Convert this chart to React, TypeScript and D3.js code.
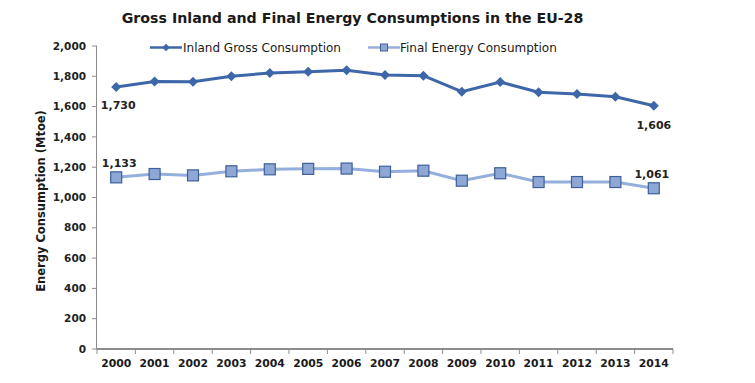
import React from "react";
import * as d3 from "d3";

const years = ["2000","2001","2002","2003","2004","2005","2006","2007","2008","2009","2010","2011","2012","2013","2014"];
const inlandGross = [1730,1766,1764,1800,1822,1830,1840,1808,1804,1698,1762,1695,1683,1665,1606];
const finalEnergy = [1133,1155,1146,1173,1186,1189,1191,1170,1177,1111,1160,1102,1102,1102,1061];
const yTicks = [0,200,400,600,800,1000,1200,1400,1600,1800,2000];

const W = 755, H = 383;
const left = 97, right = 673, top = 46, bottom = 349;
const FONT = "'DejaVu Sans', Verdana, sans-serif";

export default function App() {
  const x = d3.scaleBand<string>().domain(years).range([left, right]);
  const y = d3.scaleLinear().domain([0, 2000]).range([bottom, top]);
  const cx = (yr: string) => (x(yr) as number) + x.bandwidth() / 2;
  const line = d3.line<number>().x((_, i) => cx(years[i])).y((d) => y(d));
  const fmt = d3.format(",");
  const inlandColor = "#3d67a8";
  const finalLine = "#94afdc";
  const finalFill = "#8ea7d4";
  const finalStroke = "#3e5f98";
  const n = years.length - 1;

  return (
    <svg width={W} height={H} style={{ display: "block", position: "absolute", left: 0, top: 0, background: "#fff" }} fontFamily={FONT}>
      <text x={352.5} y={22.5} textAnchor="middle" fontSize={14.2} fontWeight="bold" fill="#1a1a1a">
        Gross Inland and Final Energy Consumptions in the EU-28
      </text>

      {/* y axis */}
      <line x1={left - 0.5} x2={left - 0.5} y1={top} y2={bottom} stroke="#8c8c8c" strokeWidth={1} />
      {yTicks.map((t) => (
        <g key={t}>
          <line x1={left - 5} x2={left} y1={y(t)} y2={y(t)} stroke="#8c8c8c" />
          <text x={left - 11} y={y(t)} dy="0.35em" textAnchor="end" fontSize={10.5} fontWeight="bold" fill="#222">
            {fmt(t)}
          </text>
        </g>
      ))}
      <text transform={`translate(45,201) rotate(-90)`} textAnchor="middle" fontSize={11.5} fontWeight="bold" fill="#1a1a1a">
        Energy Consumption (Mtoe)
      </text>

      {/* x axis */}
      <line x1={left} x2={right} y1={bottom} y2={bottom} stroke="#8c8c8c" strokeWidth={2} />
      {years.map((yr) => (
        <line key={"t" + yr} x1={x(yr) as number} x2={x(yr) as number} y1={bottom} y2={bottom + 5} stroke="#8c8c8c" />
      ))}
      <line x1={right} x2={right} y1={bottom} y2={bottom + 5} stroke="#8c8c8c" />
      {years.map((yr) => (
        <text key={"l" + yr} x={cx(yr)} y={bottom + 18} textAnchor="middle" fontSize={10.8} fontWeight="bold" fill="#1a1a1a">
          {yr}
        </text>
      ))}

      {/* final energy */}
      <path d={line(finalEnergy) || ""} fill="none" stroke={finalLine} strokeWidth={3} />
      {finalEnergy.map((v, i) => (
        <rect key={"f" + i} x={cx(years[i]) - 5.5} y={y(v) - 5.5} width={11} height={11} fill={finalFill} stroke={finalStroke} strokeWidth={1.2} />
      ))}

      {/* inland gross */}
      <path d={line(inlandGross) || ""} fill="none" stroke={inlandColor} strokeWidth={3} />
      {inlandGross.map((v, i) => (
        <path key={"g" + i} d={d3.symbol().type(d3.symbolDiamond2).size(64)() || ""} transform={`translate(${cx(years[i])},${y(v)})`} fill={inlandColor} />
      ))}

      {/* data labels */}
      <text x={cx(years[0]) + 2} y={y(inlandGross[0]) + 22} textAnchor="middle" fontSize={11} fontWeight="bold" fill="#222">{fmt(inlandGross[0])}</text>
      <text x={cx(years[n])} y={y(inlandGross[n]) + 23} textAnchor="middle" fontSize={11} fontWeight="bold" fill="#222">{fmt(inlandGross[n])}</text>
      <text x={cx(years[0]) + 3} y={y(finalEnergy[0]) - 10} textAnchor="middle" fontSize={11} fontWeight="bold" fill="#222">{fmt(finalEnergy[0])}</text>
      <text x={cx(years[n]) - 2} y={y(finalEnergy[n]) - 10} textAnchor="middle" fontSize={11} fontWeight="bold" fill="#222">{fmt(finalEnergy[n])}</text>

      {/* legend */}
      <g>
        <line x1={150} x2={182} y1={47.5} y2={47.5} stroke={inlandColor} strokeWidth={2.5} />
        <path d={d3.symbol().type(d3.symbolDiamond2).size(36)() || ""} transform="translate(166,47.5)" fill={inlandColor} />
        <text x={183} y={47.5} dy="0.35em" fontSize={12} fill="#1a1a1a">Inland Gross Consumption</text>
        <line x1={368} x2={400} y1={47.5} y2={47.5} stroke={finalLine} strokeWidth={2.5} />
        <rect x={380.5} y={44} width={7} height={7} fill={finalFill} stroke={finalStroke} strokeWidth={1} />
        <text x={400} y={47.5} dy="0.35em" fontSize={12} fill="#1a1a1a">Final Energy Consumption</text>
      </g>
    </svg>
  );
}
